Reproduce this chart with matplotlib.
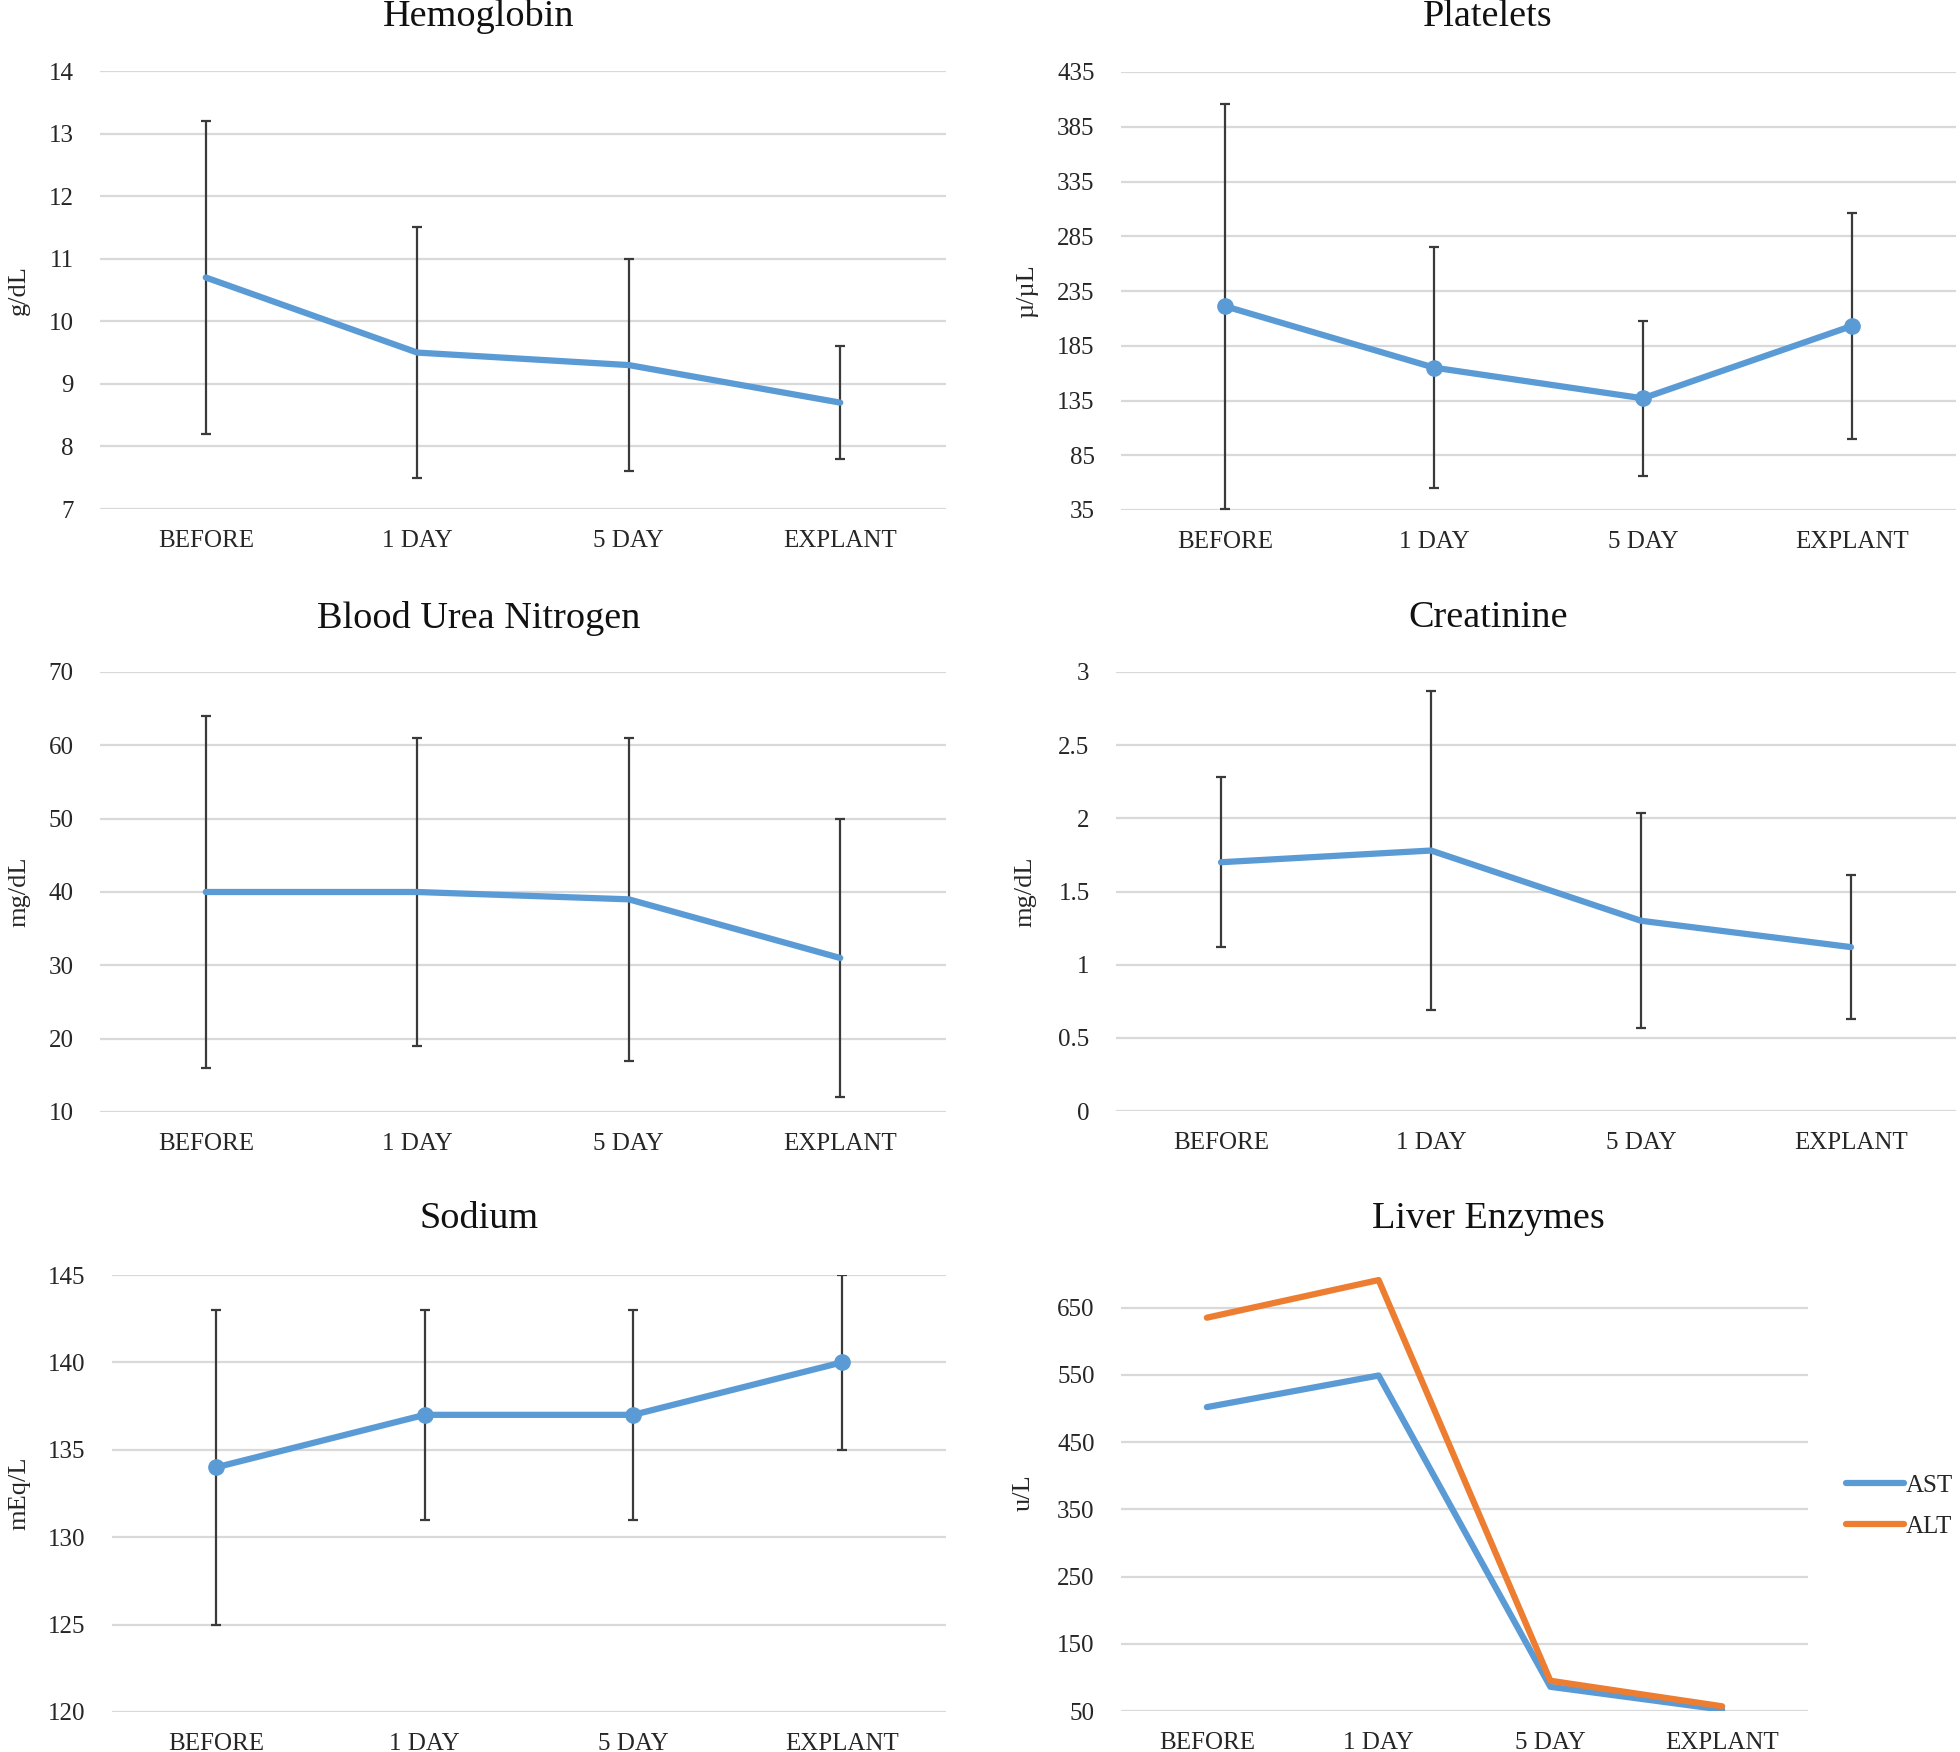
import numpy as np
import matplotlib
matplotlib.use("Agg")
import matplotlib.pyplot as plt

plt.rcParams['font.family'] = ['Liberation Serif', 'DejaVu Serif']

categories = ['BEFORE', '1 DAY', '5 DAY', 'EXPLANT']

# mean values and +/- error
hgb_mean = [10.7, 9.5, 9.3, 8.7]
hgb_err = [2.5, 2.0, 1.7, 0.9]

plt_mean = [221, 165, 137, 203]
plt_err = [185, 110, 71, 103]

bun_mean = [40, 40, 39, 31]
bun_err = [24, 21, 22, 19]

cr_mean = [1.70, 1.78, 1.30, 1.12]
cr_err = [0.58, 1.09, 0.735, 0.49]

na_mean = [134, 137, 137, 140]
na_err = [9, 6, 6, 5]

ast_vals = [502, 549, 86, 52]
alt_vals = [635, 691, 95, 57]

BLUE = '#5B9BD5'
ORANGE = '#ED7D31'
GRID = '#D9D9D9'
ERR = '#3a3a3a'
TXT = '#262626'

W, H = 1960, 1752
fig = plt.figure(figsize=(W / 100, H / 100), dpi=100)


def make_axes(left, top, right, bottom):
    # positions given in figure pixels (top-left origin)
    return fig.add_axes([left / W, 1 - bottom / H, (right - left) / W, (bottom - top) / H])


def style_axes(ax, ylim, yticks, yticklabels, ylabel, label_x_px, left_px, right_px):
    x = np.arange(len(categories))
    ax.set_xlim(-0.5, len(categories) - 0.5)
    ax.set_ylim(*ylim)
    ax.set_yticks(yticks)
    ax.set_yticklabels(yticklabels)
    ax.set_xticks(x)
    ax.set_xticklabels(categories)
    ax.tick_params(axis='both', length=0, labelsize=18, colors=TXT)
    ax.tick_params(axis='y', pad=19)
    ax.tick_params(axis='x', pad=15)
    for s in ax.spines.values():
        s.set_visible(False)
    ax.grid(axis='y', color=GRID, lw=1.6)
    ax.set_axisbelow(True)
    ax.set_ylabel(ylabel, fontsize=19, color=TXT)
    ax.yaxis.set_label_coords((label_x_px - left_px) / (right_px - left_px), 0.5)


def error_panel(box, mean, err, ylim, yticks, yticklabels, ylabel, label_x, title, title_xy, markers):
    ax = make_axes(*box)
    x = np.arange(len(categories))
    ax.errorbar(x, mean, yerr=err, fmt='none', ecolor=ERR, elinewidth=1.6,
                capsize=3.5, capthick=1.6, zorder=2)
    ax.plot(x, mean, color=BLUE, lw=4.5, solid_capstyle='round',
            marker='o' if markers else None, markersize=11, zorder=3)
    style_axes(ax, ylim, yticks, yticklabels, ylabel, label_x, box[0], box[2])
    fig.text(title_xy[0] / W, 1 - title_xy[1] / H, title, fontsize=27.5,
             ha='center', va='center', color='#111111')
    return ax


error_panel((100, 71, 946, 509), hgb_mean, hgb_err, (7, 14), range(7, 15),
            [str(v) for v in range(7, 15)], 'g/dL', 30, 'Hemoglobin', (479, 17), False)

plt_ticks = list(range(35, 436, 50))
error_panel((1121, 72, 1956, 510), plt_mean, plt_err, (35, 435), plt_ticks,
            [str(v) for v in plt_ticks], 'µ/µL', 1038, 'Platelets', (1488, 17), True)

bun_ticks = list(range(10, 71, 10))
error_panel((100, 672, 946, 1112), bun_mean, bun_err, (10, 70), bun_ticks,
            [str(v) for v in bun_ticks], 'mg/dL', 30, 'Blood Urea Nitrogen', (479, 618), False)

cr_ticks = [0, 0.5, 1, 1.5, 2, 2.5, 3]
error_panel((1116, 672, 1956, 1111), cr_mean, cr_err, (0, 3), cr_ticks,
            ['0', '0.5', '1', '1.5', '2', '2.5', '3'], 'mg/dL', 1036, 'Creatinine', (1488, 618), False)

na_ticks = list(range(120, 146, 5))
error_panel((112, 1275, 946, 1712), na_mean, na_err, (120, 145), na_ticks,
            [str(v) for v in na_ticks], 'mEq/L', 30, 'Sodium', (479, 1219), True)

# Liver enzymes panel
box = (1121, 1274, 1808, 1711)
ax = make_axes(*box)
x = np.arange(len(categories))
ax.plot(x, ast_vals, color=BLUE, lw=4.5, solid_capstyle='round', label='AST', zorder=3)
ax.plot(x, alt_vals, color=ORANGE, lw=4.5, solid_capstyle='round', label='ALT', zorder=3)
liv_ticks = list(range(50, 651, 100))
style_axes(ax, (50, 700), liv_ticks, [str(v) for v in liv_ticks], 'u/L', 1035, box[0], box[2])
fig.text(1488 / W, 1 - 1219 / H, 'Liver Enzymes', fontsize=27.5, ha='center', va='center',
         color='#111111')
leg = fig.legend(loc='center left', bbox_to_anchor=(1846 / W, 1 - 1506 / H), frameon=False,
                 fontsize=18, handlelength=2.3, handletextpad=0.1, labelspacing=0.75,
                 borderpad=0, borderaxespad=0)
for t in leg.get_texts():
    t.set_color(TXT)

fig.savefig('out.png', dpi=100, facecolor='white')
